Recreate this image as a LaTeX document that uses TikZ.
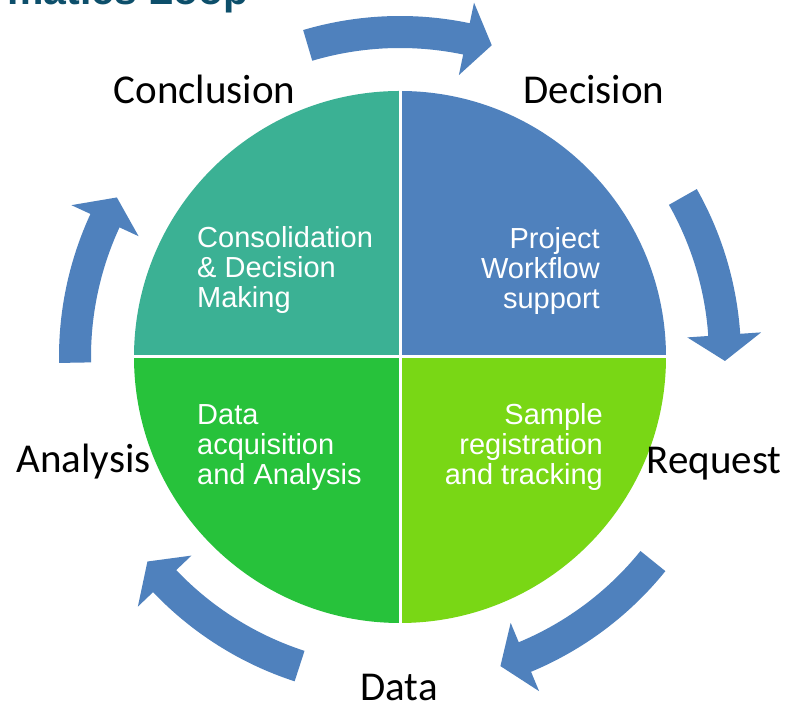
\documentclass[tikz,border=0pt]{standalone}
\usepackage{fontspec}
\setmainfont{Liberation Sans}
\newfontfamily\labelfont{Carlito}
\usepackage{tikz}
\usetikzlibrary{calc}
\definecolor{loopblue}{RGB}{79,129,189}
\definecolor{loopteal}{RGB}{59,177,148}
\definecolor{loopgreen}{RGB}{39,194,59}
\definecolor{looplime}{RGB}{121,215,21}
\definecolor{looptitle}{RGB}{13,79,107}
\newcommand{\loopArrow}[2]{%
\fill[loopblue] (#1:341) arc[start angle=#1, end angle=#2+4.6, radius=341]
  -- (#2+4.6:362) -- (#2:325) -- (#2+4.6:288) -- (#2+4.6:309)
  arc[start angle=#2+4.6, end angle=#1, radius=309] -- cycle;}

\begin{document}
\begin{tikzpicture}[x=1pt,y=1pt,
  stage/.style={inner sep=0pt, anchor=base, font=\labelfont\fontsize{41}{41}\selectfont},
  quad/.style={inner sep=0pt, text=white, font=\fontsize{29}{30}\selectfont}]
\path[use as bounding box, clip] (0,0) rectangle (788,708);
\fill[white] (0,0) rectangle (788,708);
\node[inner sep=0pt, anchor=base east, text=looptitle, font=\bfseries\fontsize{41}{41}\selectfont] (title) at (249,703) {Informatics Loop};
\begin{scope}[shift={(400,351)}]
\fill[loopteal] (0,0) -- (90:266) arc[start angle=90, end angle=180, radius=266] -- cycle;
\fill[loopblue] (0,0) -- (0:266) arc[start angle=0, end angle=90, radius=266] -- cycle;
\fill[loopgreen] (0,0) -- (180:266) arc[start angle=180, end angle=270, radius=266] -- cycle;
\fill[looplime] (0,0) -- (270:266) arc[start angle=270, end angle=360, radius=266] -- cycle;
\draw[white, line width=3pt] (-268,0) -- (268,0) (0,-268) -- (0,268);
\loopArrow{106.5}{73.6}
\loopArrow{29.5}{-0.7}
\loopArrow{-38.9}{-72}
\loopArrow{-108}{-141}
\loopArrow{181}{150.6}
\end{scope}
\node[stage] (conclusion) at (204.5,604) {Conclusion};
\node[stage] (decision) at (594,604) {Decision};
\node[stage] (request) at (714,234) {Request};
\node[stage] (data) at (399,7) {Data};
\node[stage] (analysis) at (83.5,235) {Analysis};
\node[quad, anchor=base west, align=left] (consolidation) at (197,400) {Consolidation\\\& Decision\\Making};
\node[quad, anchor=base east, align=right] (project) at (600,399) {Project\\Workflow\\support};
\node[quad, anchor=base west, align=left] (acquisition) at (197,223) {Data\\acquisition\\and Analysis};
\node[quad, anchor=base east, align=right] (sample) at (603,223) {Sample\\registration\\and tracking};
\end{tikzpicture}
\end{document}
